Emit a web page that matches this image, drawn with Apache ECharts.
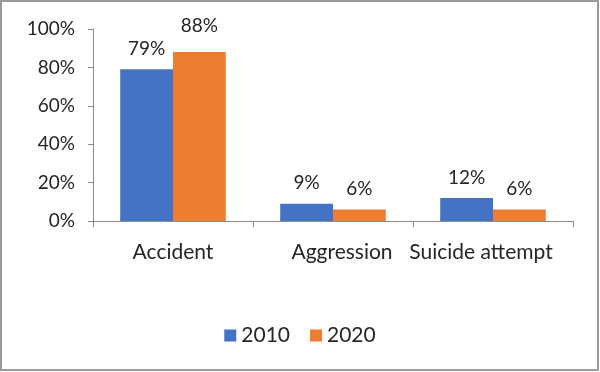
<!DOCTYPE html>
<html><head><meta charset="utf-8">
<script src="https://cdn.jsdelivr.net/npm/echarts@6/dist/echarts.min.js"></script>
<style>html,body{margin:0;padding:0;background:#fff}#c{width:600px;height:372px}</style>
</head><body><div id="c"></div>
<script>
const categories = ['Accident', 'Aggression', 'Suicide attempt'];
const series2010 = [79, 9, 12];
const series2020 = [88, 6, 6];
const seriesNames = ['2010', '2020'];
const yTicks = [0, 20, 40, 60, 80, 100];

const font = 'Lato, "Open Sans", sans-serif';
const txt = '#262626';
const chart = echarts.init(document.getElementById('c'));
chart.setOption({
  animation: false,
  backgroundColor: '#fff',
  graphic: [{type: 'rect', shape: {x: 1, y: 1, width: 597, height: 369},
    style: {fill: 'none', stroke: '#9a9a9a', lineWidth: 2}}],
  grid: {left: 93, right: 27, top: 29, bottom: 151},
  legend: {
    data: seriesNames, bottom: 21, left: 'center', itemWidth: 12, itemHeight: 12,
    itemGap: 20, icon: 'rect',
    textStyle: {fontFamily: font, fontSize: 21, color: txt}
  },
  xAxis: {
    type: 'category', data: categories,
    axisLine: {lineStyle: {color: '#8c8c8c', width: 1}},
    axisTick: {show: true, length: 6, lineStyle: {color: '#8c8c8c'}},
    axisLabel: {fontFamily: font, fontSize: 21, color: txt, margin: 21, interval: 0,
      formatter: (v, i) => ['{a|', '{b|', '{c|'][i] + v + '}',
      rich: {
        a: {fontFamily: font, fontSize: 21, color: txt},
        b: {fontFamily: font, fontSize: 21, color: txt, padding: [0, 0, 0, 18]},
        c: {fontFamily: font, fontSize: 21, color: txt, padding: [0, 24, 0, 0]}
      }}
  },
  yAxis: {
    type: 'value', min: 0, max: 100, interval: 20,
    axisLine: {show: true, lineStyle: {color: '#8c8c8c'}},
    axisTick: {show: true, length: 5, lineStyle: {color: '#8c8c8c'}},
    splitLine: {show: false},
    axisLabel: {fontFamily: font, fontSize: 19, color: txt, margin: 18,
      formatter: v => yTicks.includes(v) ? v + '%' : ''}
  },
  series: [
    {name: seriesNames[0], type: 'bar', data: series2010, barGap: '0%', barCategoryGap: '34%',
     itemStyle: {color: '#4472C4'},
     label: {show: true, position: 'top', distance: 11, formatter: p => p.value + '%',
       fontFamily: font, fontSize: 19, color: txt}},
    {name: seriesNames[1], type: 'bar', barGap: '0%', barCategoryGap: '34%',
     data: series2020.map((v, i) => i === 0 ? {value: v, label: {distance: 17}} : v),
     itemStyle: {color: '#ED7D31'},
     label: {show: true, position: 'top', distance: 11, formatter: p => p.value + '%',
       fontFamily: font, fontSize: 19, color: txt}}
  ]
});
</script></body></html>
